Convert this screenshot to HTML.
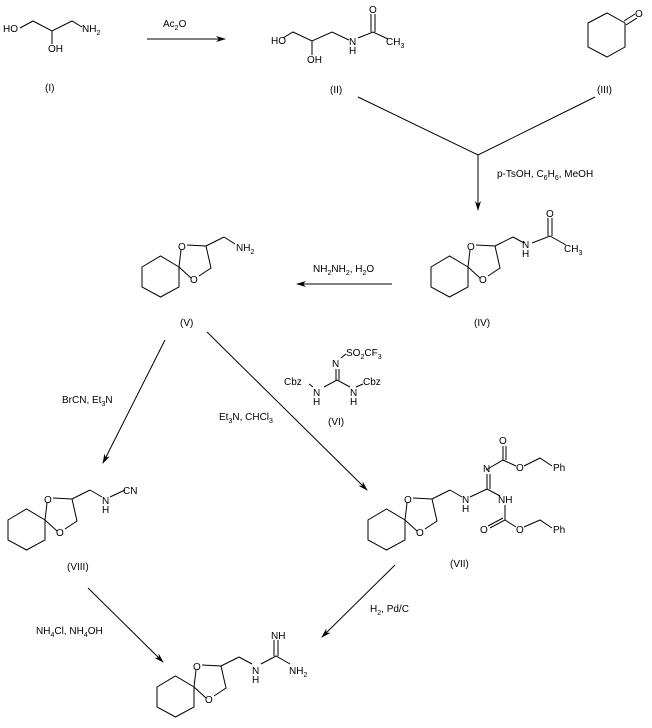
<!DOCTYPE html>
<html><head><style>
body{margin:0;background:#fff}
svg{display:block}
text{font-family:"Liberation Sans",Arial,sans-serif;font-size:10px;fill:#000}
.s{font-size:7px}
</style></head><body>
<svg width="652" height="728" viewBox="0 0 652 728" xmlns="http://www.w3.org/2000/svg">
<defs>
<marker id="a" markerWidth="10" markerHeight="8" refX="9" refY="4" orient="auto" markerUnits="userSpaceOnUse">
<path d="M0,1 L10,4 L0,7 L3,4 Z" fill="#000"/></marker>
<g id="k" fill="none" stroke="#000" stroke-width="1">
<path d="M0,0 L0,20 L-18.5,30 L-37,20 L-37,0 L-18.5,-11 Z"/>
<path d="M0,0 L2,-17 M8,-22 L27,-21 L32,1 L20,9 M12,11 L0,0 M27,-21 L45,-30"/>
</g>
</defs>
<g stroke="#000" stroke-width="1" fill="none">
<path d="M20,28 L33,21 L52,31 L72,21 L82,27 M52,31 L52,44"/>
<line x1="147" y1="39" x2="225" y2="39" marker-end="url(#a)"/>
<path d="M283,38 L293,32 L312,41 L332,32 L349,40 M312,41 L312,55 M358,38 L373,32 L388,39 M371,32 L371,14 M375,32 L375,14"/>
<path d="M588,23 L607,13 L625,23 L625,47 L607,57 L588,47 Z M624,21 L635,14 M626,25 L637,18"/>
<path d="M358,97 L478,155 L595,97 M478,155 L478,208"/>
<line x1="478" y1="190" x2="478" y2="210" marker-end="url(#a)"/>
<line x1="392" y1="284" x2="297" y2="284" marker-end="url(#a)"/>
<line x1="165" y1="340" x2="103" y2="463" marker-end="url(#a)"/>
<line x1="207" y1="332" x2="367" y2="490" marker-end="url(#a)"/>
<line x1="88" y1="588" x2="163" y2="662" marker-end="url(#a)"/>
<line x1="395" y1="565" x2="322" y2="637" marker-end="url(#a)"/>
<path d="M224,237 L235,244"/>
<path d="M513,237 L524,243 M532,243 L550,236 L566,245 M548,236 L548,218 M552,236 L552,218"/>
<path d="M336,380 L336,369 M339,380 L339,369 M337,380 L350,387 M337,380 L324,387 M341,358 L346,354 M309,384 L313,387 M356,387 L363,384"/>
<path d="M90,490 L102,497 M110,497 L125,490"/>
<path d="M239,657 L252,664 M261,664 L276,656 L290,664 M274,656 L274,640 M278,656 L278,640"/>
<path d="M450,490 L462,497 M470,497 L487,489 L487,474 M490,489 L490,474 M487,489 L500,496 M486,470 L503,460 L516,466 M503,460 L503,446 M506,460 L506,446 M524,466 L540,458 L552,466 M505,505 L505,520 L490,528 M505,520 L516,527 M503,518 L488,526 M524,527 L540,520 L552,528"/>
</g>
<use href="#k" x="179" y="267"/>
<use href="#k" x="468" y="267"/>
<use href="#k" x="45" y="520"/>
<use href="#k" x="405" y="520"/>
<use href="#k" x="194" y="687"/>
<g>
<text x="178" y="250">O</text><text x="190" y="283">O</text>
<text x="467" y="250">O</text><text x="479" y="283">O</text>
<text x="44" y="503">O</text><text x="56" y="536">O</text>
<text x="404" y="503">O</text><text x="416" y="536">O</text>
<text x="193" y="670">O</text><text x="205" y="703">O</text>
<text x="3" y="32">HO</text><text x="48" y="52">OH</text><text x="82" y="32">NH<tspan class="s" dy="3">2</tspan></text>
<text x="163" y="27">Ac<tspan class="s" dy="3">2</tspan><tspan dy="-3">O</tspan></text>
<text x="45" y="91">(I)</text>
<text x="271" y="44">HO</text><text x="307" y="63">OH</text><text x="349" y="45">N</text><text x="349" y="54">H</text>
<text x="369" y="13">O</text><text x="386" y="45">CH<tspan class="s" dy="3">3</tspan></text>
<text x="330" y="93">(II)</text>
<text x="635" y="17">O</text><text x="597" y="93">(III)</text>
<text x="497" y="177">p-TsOH, C<tspan class="s" dy="3">6</tspan><tspan dy="-3">H</tspan><tspan class="s" dy="3">6</tspan><tspan dy="-3">, MeOH</tspan></text>
<text x="236" y="251">NH<tspan class="s" dy="3">2</tspan></text>
<text x="522" y="248">N</text><text x="522" y="257">H</text><text x="546" y="217">O</text><text x="564" y="252">CH<tspan class="s" dy="3">3</tspan></text>
<text x="313" y="272">NH<tspan class="s" dy="3">2</tspan><tspan dy="-3">NH</tspan><tspan class="s" dy="3">2</tspan><tspan dy="-3">, H</tspan><tspan class="s" dy="3">2</tspan><tspan dy="-3">O</tspan></text>
<text x="180" y="326">(V)</text><text x="474" y="326">(IV)</text>
<text x="332" y="367">N</text><text x="346" y="356">SO<tspan class="s" dy="3">2</tspan><tspan dy="-3">CF</tspan><tspan class="s" dy="3">3</tspan></text>
<text x="284" y="385">Cbz</text><text x="313" y="396">N</text><text x="313" y="405">H</text>
<text x="350" y="396">N</text><text x="350" y="405">H</text><text x="363" y="385">Cbz</text>
<text x="328" y="425">(VI)</text>
<text x="62" y="403">BrCN, Et<tspan class="s" dy="3">3</tspan><tspan dy="-3">N</tspan></text>
<text x="219" y="420">Et<tspan class="s" dy="3">3</tspan><tspan dy="-3">N, CHCl</tspan><tspan class="s" dy="3">3</tspan></text>
<text x="102" y="504">N</text><text x="102" y="513">H</text><text x="123" y="494">CN</text>
<text x="67" y="570">(VIII)</text>
<text x="462" y="503">N</text><text x="462" y="512">H</text><text x="483" y="472">N</text>
<text x="499" y="444">O</text><text x="516" y="471">O</text><text x="553" y="471">Ph</text>
<text x="498" y="503">NH</text><text x="480" y="533">O</text><text x="516" y="533">O</text><text x="553" y="533">Ph</text>
<text x="450" y="567">(VII)</text>
<text x="370" y="612">H<tspan class="s" dy="3">2</tspan><tspan dy="-3">, Pd/C</tspan></text>
<text x="36" y="634">NH<tspan class="s" dy="3">4</tspan><tspan dy="-3">Cl, NH</tspan><tspan class="s" dy="3">4</tspan><tspan dy="-3">OH</tspan></text>
<text x="252" y="674">N</text><text x="252" y="683">H</text><text x="271" y="639">NH</text><text x="289" y="674">NH<tspan class="s" dy="3">2</tspan></text>
</g>
</svg>
</body></html>
